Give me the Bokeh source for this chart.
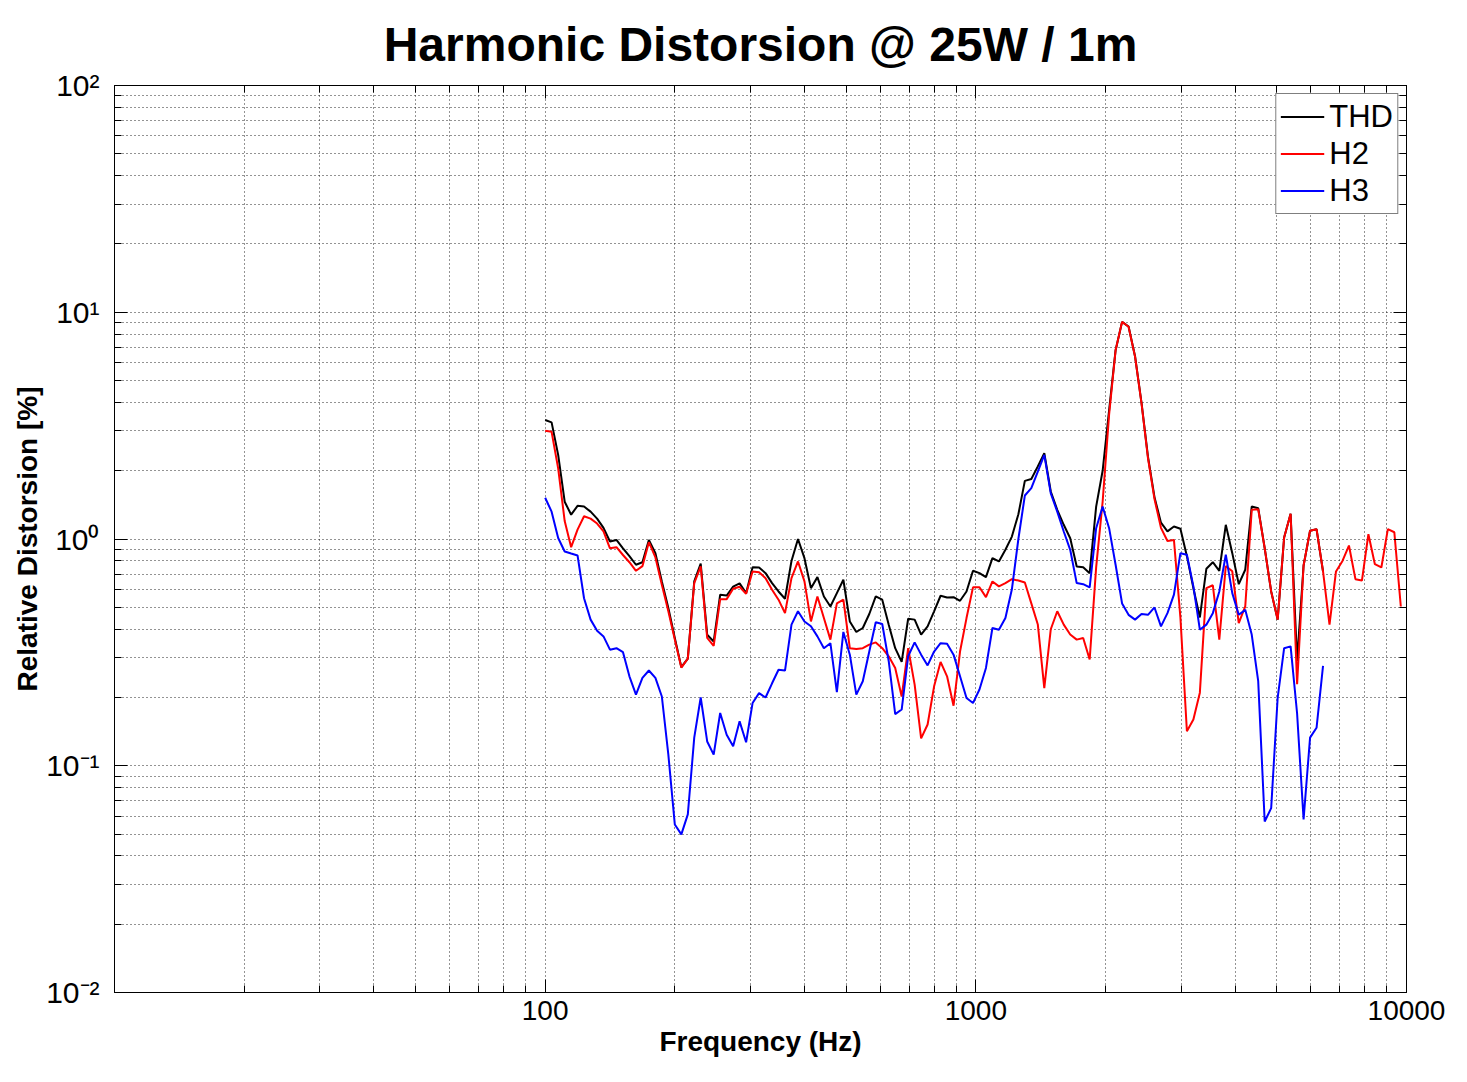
from bokeh.plotting import figure
from bokeh.models import LogAxis, FixedTicker, Legend, LegendItem, BasicTickFormatter
from bokeh.embed import file_html
from bokeh.resources import INLINE

# 1/20-octave frequency grid (Hz)
FREQ = [
    100.0, 103.5, 107.2, 111.0, 114.9, 118.9, 123.1, 127.5, 132.0, 136.6,
    141.4, 146.4, 151.6, 156.9, 162.5, 168.2, 174.1, 180.3, 186.6, 193.2,
    200.0, 207.1, 214.4, 221.9, 229.7, 237.8, 246.2, 254.9, 263.9, 273.2,
    282.8, 292.8, 303.1, 313.8, 324.9, 336.4, 348.2, 360.5, 373.2, 386.4,
    400.0, 414.1, 428.7, 443.8, 459.5, 475.7, 492.5, 509.8, 527.8, 546.4,
    565.7, 585.6, 606.3, 627.7, 649.8, 672.7, 696.4, 721.0, 746.4, 772.7,
    800.0, 828.2, 857.4, 887.7, 919.0, 951.4, 984.9, 1019.6, 1055.6, 1092.8,
    1131.4, 1171.3, 1212.6, 1255.4, 1299.6, 1345.4, 1392.9, 1442.0, 1492.9, 1545.5,
    1600.0, 1656.4, 1714.8, 1775.3, 1837.9, 1902.7, 1969.8, 2039.3, 2111.2, 2185.6,
    2262.7, 2342.5, 2425.1, 2510.6, 2599.2, 2690.8, 2785.7, 2884.0, 2985.7, 3091.0,
    3200.0, 3312.8, 3429.7, 3550.6, 3675.8, 3805.5, 3939.7, 4078.6, 4222.4, 4371.3,
    4525.5, 4685.1, 4850.3, 5021.3, 5198.4, 5381.7, 5571.5, 5768.0, 5971.4, 6182.0,
    6400.0, 6625.7, 6859.3, 7101.2, 7351.6, 7610.9, 7879.3, 8157.2, 8444.8, 8742.6,
    9050.9, 9370.1, 9700.6,
]

# Relative distortion (%)
THD = [
    3.35, 3.27, 2.35, 1.46, 1.28, 1.40, 1.39, 1.32, 1.23, 1.12,
    0.975, 0.99, 0.91, 0.84, 0.77, 0.79, 0.99, 0.866, 0.65, 0.496,
    0.366, 0.272, 0.297, 0.65, 0.78, 0.378, 0.353, 0.568, 0.563, 0.616,
    0.637, 0.577, 0.75, 0.749, 0.707, 0.639, 0.587, 0.545, 0.80, 1.0,
    0.823, 0.607, 0.679, 0.558, 0.504, 0.577, 0.661, 0.433, 0.389, 0.405,
    0.467, 0.558, 0.54, 0.419, 0.33, 0.287, 0.445, 0.441, 0.379, 0.412,
    0.48, 0.562, 0.552, 0.554, 0.534, 0.587, 0.724, 0.707, 0.679, 0.823,
    0.796, 0.896, 1.025, 1.286, 1.805, 1.84, 2.09, 2.39, 1.62, 1.345,
    1.155, 1.008, 0.757, 0.751, 0.707, 1.39, 2.0, 3.7, 6.8, 9.07,
    8.65, 6.4, 3.98, 2.3, 1.53, 1.18, 1.08, 1.135, 1.11, 0.84,
    0.607, 0.451, 0.739, 0.79, 0.724, 1.155, 0.866, 0.632, 0.732, 1.39,
    1.367, 0.911, 0.587, 0.441, 1.015, 1.291, 0.29, 0.764, 1.087, 1.105,
    0.719,
]

H2 = [
    3.0, 2.97, 2.05, 1.2, 0.92, 1.10, 1.26, 1.23, 1.17, 1.08,
    0.91, 0.92, 0.85, 0.79, 0.724, 0.759, 0.968, 0.829, 0.628, 0.48,
    0.36, 0.271, 0.297, 0.639, 0.757, 0.366, 0.338, 0.543, 0.543, 0.603,
    0.616, 0.573, 0.719, 0.714, 0.672, 0.597, 0.54, 0.471, 0.672, 0.796,
    0.65, 0.433, 0.558, 0.448, 0.36, 0.52, 0.54, 0.33, 0.327, 0.33,
    0.342, 0.35, 0.33, 0.304, 0.27, 0.202, 0.33, 0.228, 0.132, 0.152,
    0.224, 0.287, 0.248, 0.184, 0.319, 0.448, 0.612, 0.613, 0.554, 0.65,
    0.618, 0.639, 0.665, 0.656, 0.643, 0.52, 0.42, 0.22, 0.40, 0.48,
    0.419, 0.379, 0.36, 0.366, 0.294, 0.75, 1.46, 3.54, 6.8, 9.07,
    8.63, 6.37, 3.96, 2.27, 1.50, 1.12, 0.98, 0.99, 0.45, 0.142,
    0.16, 0.21, 0.607, 0.625, 0.36, 0.76, 0.72, 0.426, 0.504, 1.345,
    1.353, 0.911, 0.587, 0.441, 1.015, 1.291, 0.229, 0.764, 1.087, 1.105,
    0.719, 0.419, 0.719, 0.80, 0.936, 0.665, 0.656, 1.05, 0.774, 0.749,
    1.105, 1.071, 0.504,
]

H3 = [
    1.52, 1.32, 1.01, 0.881, 0.863, 0.846, 0.548, 0.441, 0.394, 0.372,
    0.325, 0.33, 0.317, 0.248, 0.206, 0.244, 0.263, 0.244, 0.202, 0.112,
    0.0551, 0.0498, 0.061, 0.133, 0.2, 0.128, 0.112, 0.171, 0.137, 0.122,
    0.157, 0.127, 0.189, 0.209, 0.2, 0.231, 0.265, 0.263, 0.419, 0.48,
    0.433, 0.412, 0.372, 0.33, 0.347, 0.211, 0.389, 0.309, 0.206, 0.236,
    0.319, 0.429, 0.422, 0.289, 0.169, 0.177, 0.304, 0.35, 0.309, 0.277,
    0.319, 0.347, 0.345, 0.309, 0.248, 0.199, 0.189, 0.217, 0.27, 0.405,
    0.398, 0.448, 0.6, 1.0, 1.555, 1.675, 1.98, 2.35, 1.59, 1.32,
    1.079, 0.896, 0.639, 0.632, 0.612, 1.116, 1.39, 1.116, 0.77, 0.52,
    0.463, 0.441, 0.467, 0.463, 0.499, 0.412, 0.471, 0.568, 0.866, 0.852,
    0.618, 0.398, 0.419, 0.471, 0.587, 0.852, 0.577, 0.463, 0.487, 0.379,
    0.236, 0.0568, 0.065, 0.199, 0.33, 0.336, 0.17, 0.058, 0.133, 0.147,
    0.276,
]

SERIES_NAMES = ["THD", "H2", "H3"]
SERIES_COLORS = ["#000000", "#ff0000", "#0000ff"]

X_MAJOR = [100, 1000, 10000]
X_MINOR = [10, 20, 30, 40, 50, 60, 70, 80, 90,
           200, 300, 400, 500, 600, 700, 800, 900,
           2000, 3000, 4000, 5000, 6000, 7000, 8000, 9000]
X_LABELS = {100: "100", 1000: "1000", 10000: "10000"}
Y_MAJOR = [0.01, 0.1, 1, 10, 100]
Y_MINOR = [0.02, 0.03, 0.04, 0.05, 0.06, 0.07, 0.08, 0.09,
           0.2, 0.3, 0.4, 0.5, 0.6, 0.7, 0.8, 0.9,
           2, 3, 4, 5, 6, 7, 8, 9,
           20, 30, 40, 50, 60, 70, 80, 90]
Y_LABELS = {0.01: "10\u207b\u00b2", 0.1: "10\u207b\u00b9", 1: "10\u2070",
            10: "10\u00b9", 100: "10\u00b2"}

FONT = "Liberation Sans"

p = figure(
    x_axis_type="log", y_axis_type="log",
    x_range=(10, 10000), y_range=(0.01, 100),
    frame_width=1292, frame_height=907,
    output_backend="svg", toolbar_location=None,
    title="Harmonic Distorsion @ 25W / 1m",
    x_axis_label="Frequency (Hz)", y_axis_label="Relative Distorsion [%]",
)
p.min_border_left = 114
p.min_border_right = 55
p.min_border_top = 84
p.min_border_bottom = 80
p.background_fill_color = "white"
p.border_fill_color = "white"
p.outline_line_color = "black"
p.outline_line_width = 1

p.title.text_font = FONT
p.title.text_font_size = "48px"
p.title.text_font_style = "bold"
p.title.text_color = "black"
p.title.align = "center"
p.title.text_line_height = 0.75
p.title.standoff = 30

xt = FixedTicker(ticks=X_MAJOR, minor_ticks=X_MINOR)
yt = FixedTicker(ticks=Y_MAJOR, minor_ticks=Y_MINOR)


def style_axis(ax, show_labels):
    ax.axis_line_color = "black"
    ax.major_tick_line_color = "black"
    ax.minor_tick_line_color = "black"
    ax.major_tick_in = 13
    ax.major_tick_out = 0
    ax.minor_tick_in = 7
    ax.minor_tick_out = 0
    if show_labels:
        ax.major_label_text_font = FONT
        ax.major_label_text_font_size = "28px"
        ax.major_label_text_color = "black"
        ax.axis_label_text_font = FONT
        ax.axis_label_text_font_size = "28px"
        ax.axis_label_text_font_style = "bold"
        ax.axis_label_text_color = "black"
    else:
        ax.major_label_text_font_size = "2px"
        ax.major_label_text_alpha = 0
        ax.major_label_standoff = 0


p.xaxis[0].ticker = xt
p.xaxis[0].formatter = BasicTickFormatter(use_scientific=False)
p.xaxis[0].major_label_overrides = X_LABELS
p.yaxis[0].ticker = yt
p.yaxis[0].formatter = BasicTickFormatter()
p.yaxis[0].major_label_overrides = Y_LABELS
style_axis(p.xaxis[0], True)
style_axis(p.yaxis[0], True)
p.yaxis[0].major_label_text_font_size = "30px"
p.xaxis[0].major_label_standoff = 8
p.xaxis[0].axis_label_standoff = 3
p.yaxis[0].major_label_standoff = 15
p.yaxis[0].axis_label_standoff = 0

top_ax = LogAxis(ticker=xt)
right_ax = LogAxis(ticker=yt)
style_axis(top_ax, False)
style_axis(right_ax, False)
p.add_layout(top_ax, "above")
p.add_layout(right_ax, "right")

for g, t in ((p.xgrid[0], xt), (p.ygrid[0], yt)):
    g.ticker = t
    g.grid_line_color = "black"
    g.grid_line_dash = "1 3"
    g.grid_line_width = 1
    g.grid_line_alpha = 0.85
    g.minor_grid_line_color = "black"
    g.minor_grid_line_dash = "1 3"
    g.minor_grid_line_width = 1
    g.minor_grid_line_alpha = 0.85

renderers = []
for name, color, vals in zip(SERIES_NAMES, SERIES_COLORS, (THD, H2, H3)):
    r = p.line(FREQ[:len(vals)], vals, line_color=color, line_width=2)
    renderers.append((name, r))

legend = Legend(items=[LegendItem(label=n, renderers=[r]) for n, r in renderers],
                location="top_right")
legend.label_text_font = FONT
legend.label_text_font_size = "31px"
legend.label_text_color = "black"
legend.border_line_color = "black"
legend.border_line_width = 1
legend.background_fill_color = "white"
legend.background_fill_alpha = 1
legend.margin = 8
legend.padding = 4
legend.spacing = 0
legend.glyph_width = 44
legend.glyph_height = 37
legend.label_height = 37
legend.label_standoff = 5
p.add_layout(legend)

open("out.html", "w").write(file_html(p, INLINE))
